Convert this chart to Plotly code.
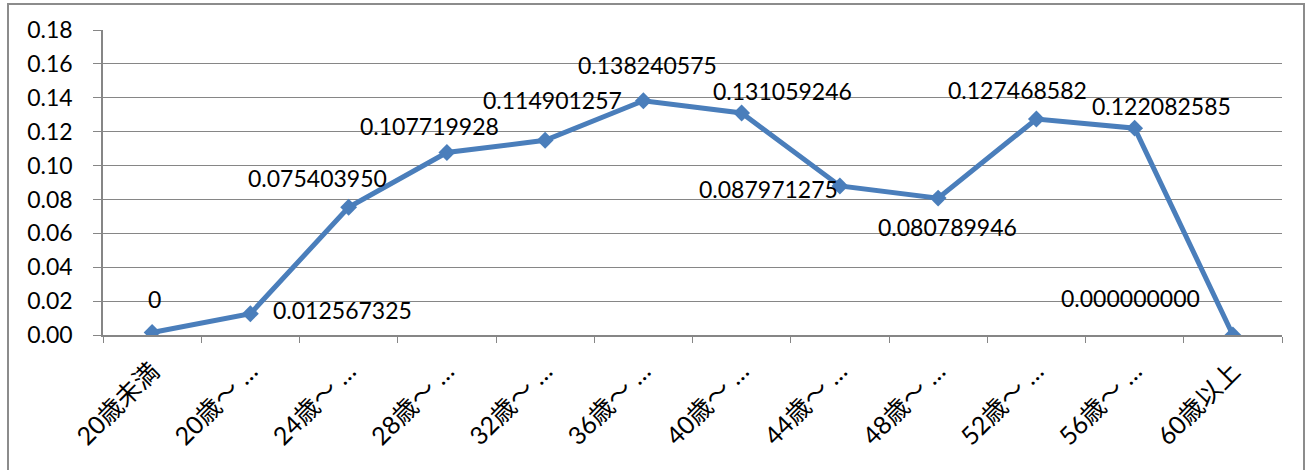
import plotly.graph_objects as go

categories = ["20歳未満", "20歳～ …", "24歳～ …", "28歳～ …", "32歳～ …", "36歳～ …",
              "40歳～ …", "44歳～ …", "48歳～ …", "52歳～ …", "56歳～ …", "60歳以上"]
values = [0.0015, 0.012567325, 0.075403950, 0.107719928, 0.114901257, 0.138240575,
          0.131059246, 0.087971275, 0.080789946, 0.127468582, 0.122082585, 0.0]
labels = ["0", "0.012567325", "0.075403950", "0.107719928", "0.114901257", "0.138240575",
          "0.131059246", "0.087971275", "0.080789946", "0.127468582", "0.122082585", "0.000000000"]
y_ticks = [0.00, 0.02, 0.04, 0.06, 0.08, 0.10, 0.12, 0.14, 0.16, 0.18]

# label offsets in pixels (style)
label_shift = [(2, 33), (92, 4), (-31, 29), (-17, 26), (7, 40), (4, 36),
               (41, 22), (-71, -3), (9, -29), (-19, 29), (27, 22), (-102, 37)]

FONT = "Lato, 'Noto Sans CJK JP', sans-serif"
LINE = "#4A7EBB"
GRID = "#868686"

fig = go.Figure()
fig.add_trace(go.Scatter(
    x=categories, y=values, mode="lines+markers",
    line=dict(color=LINE, width=5),
    marker=dict(symbol="diamond", size=13, color=LINE),
    hoverinfo="skip", showlegend=False,
))

for c, v, t, (dx, dy) in zip(categories, values, labels, label_shift):
    fig.add_annotation(x=c, y=v, text=t, showarrow=False, xshift=dx, yshift=dy,
                       xanchor="center", yanchor="middle",
                       font=dict(family=FONT, size=23, color="#000000"))

L, R, T, B = 103, 1282, 30, 335
W, H = 1310, 470
pw, ph = R - L, B - T
fig.add_shape(type="rect", xref="paper", yref="paper",
              x0=(8 - L) / pw, x1=(1304 - L) / pw,
              y0=(B - 480) / ph, y1=(B - 4) / ph,
              line=dict(color="#8c8c8c", width=2), fillcolor="rgba(0,0,0,0)", layer="below")

fig.update_layout(
    width=W, height=H,
    margin=dict(l=L, r=W - R, t=T, b=H - B, autoexpand=False),
    paper_bgcolor="white", plot_bgcolor="white",
    font=dict(family=FONT, size=23, color="#000000"),
    xaxis=dict(type="category", tickangle=-45, tickson="boundaries",
               ticks="outside", ticklen=6, tickcolor=GRID, automargin=False,
               ticklabelstandoff=10,
               showline=True, linecolor=GRID, linewidth=1.5,
               showgrid=False, tickfont=dict(size=25), range=[-0.5, 11.5]),
    yaxis=dict(range=[0, 0.18], tickvals=y_ticks, tickformat=".2f",
               ticks="outside", ticklen=8, tickcolor=GRID, automargin=False,
               ticklabelstandoff=16,
               showline=True, linecolor=GRID, linewidth=1.5,
               showgrid=True, gridcolor=GRID, gridwidth=1,
               zeroline=False, tickfont=dict(size=23)),
)

fig.write_html("out.html", config={"displayModeBar": False},
               post_script="document.body.style.margin='0';document.body.style.overflow='hidden';")
